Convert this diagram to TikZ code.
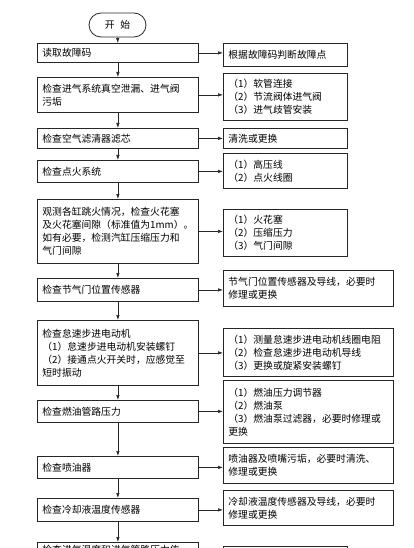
\documentclass[tikz,border=0pt]{standalone}
\usepackage{fontspec}
\setmainfont{Noto Sans CJK SC}
\usepackage{tikz}
\usetikzlibrary{arrows.meta,positioning}
\definecolor{FlowInk}{gray}{0.15}

\tikzset{
  flowbase/.style={draw=FlowInk,line width=0.8pt,anchor=north west,align=left,
    inner xsep=5pt,inner ysep=2pt,font=\fontsize{9.8}{13}\selectfont},
  checkbox/.style={flowbase,text width=151pt},
  fixbox/.style={flowbase,text width=114pt},
  widefix/.style={flowbase,text width=160pt},
  startbox/.style={draw=FlowInk,line width=0.8pt,rounded corners=12pt,
    minimum width=57pt,minimum height=24pt,font=\fontsize{9.8}{13}\selectfont},
  flow/.style={-{Latex[length=5pt,width=3.5pt]},draw=FlowInk,line width=0.6pt},
}

\begin{document}
\begin{tikzpicture}[x=1pt,y=-1pt]
  \path[use as bounding box,clip] (0,0) rectangle (414,548);
  \node[startbox] (start) at (117.5,25) {开\hspace{0.6em}始};

  \node[checkbox,minimum height=19pt] (read) at (37,43) {读取故障码};
  \node[fixbox,minimum height=23pt] (read-fix) at (223,43) {根据故障码判断故障点};

  \node[checkbox,minimum height=35pt] (intake) at (37,77)
    {检查进气系统真空泄漏、进气阀\\污垢};
  \node[fixbox,minimum height=47pt] (intake-fix) at (223,73)
    {（1）软管连接\\（2）节流阀体进气阀\\（3）进气歧管安装};

  \node[checkbox,minimum height=20pt] (filter) at (37,128) {检查空气滤清器滤芯};
  \node[fixbox,minimum height=20pt] (filter-fix) at (223,128) {清洗或更换};

  \node[checkbox,minimum height=22pt] (ignite) at (37,160) {检查点火系统};
  \node[fixbox,minimum height=35pt] (ignite-fix) at (223,153)
    {（1）高压线\\（2）点火线圈};

  \node[checkbox,minimum height=64pt] (spark) at (37,199)
    {观测各缸跳火情况，检查火花塞\\\mbox{及火花塞间隙（标准值为1mm）。}\\如有必要，检测汽缸压缩压力和\\气门间隙};
  \node[fixbox,minimum height=47pt] (spark-fix) at (223,209)
    {（1）火花塞\\（2）压缩压力\\（3）气门间隙};

  \node[checkbox,minimum height=23pt] (throttle) at (37,278) {检查节气门位置传感器};
  \node[widefix,minimum height=36pt] (throttle-fix) at (223,270)
    {节气门位置传感器及导线，必要时\\修理或更换};

  \node[checkbox,minimum height=65pt] (idle) at (37,320)
    {检查怠速步进电动机\\（1）怠速步进电动机安装螺钉\\（2）接通点火开关时，应感觉至\\短时振动};
  \node[widefix,minimum height=48pt] (idle-fix) at (223,328)
    {（1）测量怠速步进电动机线圈电阻\\（2）检查怠速步进电动机导线\\（3）更换或旋紧安装螺钉};

  \node[checkbox,minimum height=22pt] (fuel) at (37,400) {检查燃油管路压力};
  \node[widefix,minimum height=63pt] (fuel-fix) at (223,380)
    {（1）燃油压力调节器\\（2）燃油泵\\（3）燃油泵过滤器，必要时修理或\\更换};

  \node[checkbox,minimum height=22pt] (inject) at (37,456) {检查喷油器};
  \node[widefix,minimum height=36pt] (inject-fix) at (223,447)
    {喷油器及喷嘴污垢，必要时清洗、\\修理或更换};

  \node[checkbox,minimum height=23pt] (coolant) at (37,498) {检查冷却液温度传感器};
  \node[widefix,minimum height=35pt] (coolant-fix) at (223,490)
    {冷却液温度传感器及导线，必要时\\修理或更换};

  \node[checkbox,inner ysep=3pt] (airtemp) at (37,542) {检查进气温度和进气管路压力传};
  \node[fixbox,minimum height=30pt] (airtemp-fix) at (223,546) {};

  \draw[flow] (start) -- (read);
  \foreach \a/\b in {read/intake,intake/filter,filter/ignite,ignite/spark,
    spark/throttle,throttle/idle,idle/fuel,fuel/inject,inject/coolant,coolant/airtemp}
    \draw[flow] (\a.south) -- (\b.north);
  \foreach \a in {read,intake,filter,ignite,spark,throttle,idle,fuel,inject,coolant}
    \draw[flow] (\a.east) -- (\a.east -| \a-fix.west);
\end{tikzpicture}
\end{document}
